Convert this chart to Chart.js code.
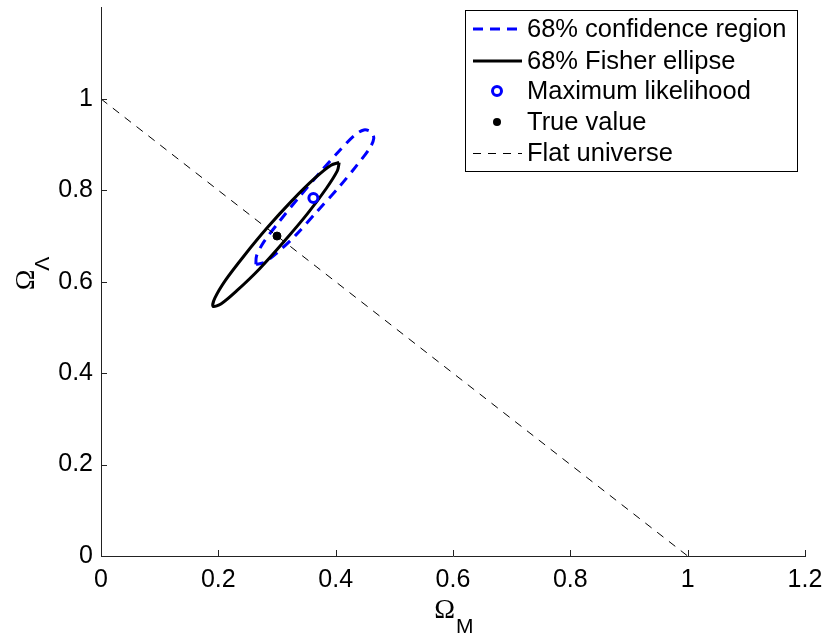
<!DOCTYPE html>
<html lang="en">
<head>
<meta charset="UTF-8">
<title>Omega_M vs Omega_Lambda</title>
<script src="https://cdn.jsdelivr.net/npm/chart.js"></script>
<style>
    body { margin: 0; background: #fff; }
    #wrap { width: 826px; height: 637px; }
</style>
</head>
<body>
<div id="wrap"><canvas id="chart" width="826" height="637"></canvas></div>
<script>
// values
const confX = [0.264, 0.265, 0.277, 0.304, 0.337, 0.376, 0.406, 0.432, 0.448, 0.460, 0.465, 0.458, 0.435, 0.407, 0.367, 0.332, 0.299, 0.278, 0.264];
const confY = [0.638, 0.656, 0.686, 0.732, 0.784, 0.843, 0.886, 0.920, 0.932, 0.928, 0.914, 0.892, 0.853, 0.809, 0.752, 0.702, 0.662, 0.642, 0.638];
const fisherX = [0.406, 0.403, 0.384, 0.352, 0.312, 0.270, 0.232, 0.205, 0.191, 0.194, 0.212, 0.244, 0.284, 0.326, 0.364, 0.392, 0.406];
const fisherY = [0.861, 0.843, 0.804, 0.749, 0.688, 0.628, 0.581, 0.552, 0.546, 0.564, 0.603, 0.657, 0.719, 0.778, 0.826, 0.855, 0.861];
const mlX = [0.362];
const mlY = [0.783];
const trueX = [0.3];
const trueY = [0.7];
const flatX = [0, 1];
const flatY = [1, 0];

const xTicks = [0, 0.2, 0.4, 0.6, 0.8, 1, 1.2];
const xTickLabels = ['0', '0.2', '0.4', '0.6', '0.8', '1', '1.2'];
const yTicks = [0, 0.2, 0.4, 0.6, 0.8, 1];
const yTickLabels = ['0', '0.2', '0.4', '0.6', '0.8', '1'];
const legendLabels = ['68% confidence region', '68% Fisher ellipse', 'Maximum likelihood', 'True value', 'Flat universe'];

const BLUE = '#0000ff';
const SANS = '"Liberation Sans", Arial, Helvetica, sans-serif';

function pts(xs, ys) {
    return xs.map((x, i) => ({ x: x, y: ys[i] }));
}

// inward ticks, axis titles and the boxed legend
const extras = {
    id: 'extras',
    afterDraw(chart) {
        const ctx = chart.ctx;
        const area = chart.chartArea;
        const xs = chart.scales.x, ys = chart.scales.y;
        ctx.save();

        ctx.strokeStyle = '#222';
        ctx.lineWidth = 1;
        ctx.beginPath();
        xTicks.forEach(v => {
            if (v === 0) return;
            const px = Math.round(xs.getPixelForValue(v)) + 0.5;
            ctx.moveTo(px, area.bottom);
            ctx.lineTo(px, area.bottom - 6);
        });
        yTicks.forEach(v => {
            if (v === 0) return;
            const py = Math.round(ys.getPixelForValue(v)) + 0.5;
            ctx.moveTo(area.left, py);
            ctx.lineTo(area.left + 6, py);
        });
        ctx.stroke();

        // x title: Omega_M
        ctx.fillStyle = '#000';
        ctx.textBaseline = 'alphabetic';
        const cx = (area.left + area.right) / 2;
        ctx.font = '28px "Liberation Serif", "Times New Roman", serif';
        ctx.textAlign = 'right';
        ctx.fillText('Ω', cx + 2, 618);
        ctx.font = '21px ' + SANS;
        ctx.textAlign = 'left';
        ctx.fillText('M', cx + 3, 633);

        // y title: Omega_Lambda
        ctx.save();
        ctx.translate(34, (area.top + area.bottom) / 2 - 2);
        ctx.rotate(-Math.PI / 2);
        ctx.font = '28px "Liberation Serif", "Times New Roman", serif';
        ctx.textAlign = 'center';
        ctx.fillText('Ω', 0, 0);
        ctx.font = '21px ' + SANS;
        ctx.textAlign = 'left';
        ctx.fillText('Λ', 9, 15);
        ctx.restore();

        // legend
        const bx = 465, by = 10, bw = 332, bh = 161;
        ctx.fillStyle = '#fff';
        ctx.fillRect(bx, by, bw, bh);
        ctx.strokeStyle = '#000';
        ctx.lineWidth = 1;
        ctx.strokeRect(bx + 0.5, by + 0.5, bw, bh);

        const rows = [29, 61, 91, 122, 153];
        const lx0 = 473, lx1 = 522, mx = 497;
        ctx.setLineDash([10, 7]);
        ctx.strokeStyle = BLUE;
        ctx.lineWidth = 3;
        ctx.beginPath(); ctx.moveTo(lx0, rows[0]); ctx.lineTo(lx1, rows[0]); ctx.stroke();
        ctx.setLineDash([]);
        ctx.strokeStyle = '#000';
        ctx.beginPath(); ctx.moveTo(lx0, rows[1]); ctx.lineTo(lx1, rows[1]); ctx.stroke();
        ctx.strokeStyle = BLUE;
        ctx.fillStyle = '#fff';
        ctx.beginPath(); ctx.arc(mx, rows[2], 4.5, 0, Math.PI * 2); ctx.fill(); ctx.stroke();
        ctx.fillStyle = '#000';
        ctx.beginPath(); ctx.arc(mx, rows[3], 4, 0, Math.PI * 2); ctx.fill();
        ctx.setLineDash([8, 7]);
        ctx.strokeStyle = '#000';
        ctx.lineWidth = 1;
        ctx.beginPath(); ctx.moveTo(lx0, rows[4] + 0.5); ctx.lineTo(lx1, rows[4] + 0.5); ctx.stroke();
        ctx.setLineDash([]);

        ctx.fillStyle = '#000';
        ctx.font = '25.5px ' + SANS;
        ctx.textAlign = 'left';
        legendLabels.forEach((t, i) => ctx.fillText(t, 527, rows[i] + 8));

        ctx.restore();
    }
};

new Chart(document.getElementById('chart'), {
    type: 'scatter',
    data: {
        datasets: [
            {
                label: legendLabels[4], data: pts(flatX, flatY), showLine: true,
                borderColor: '#000', borderWidth: 1, borderDash: [8, 7],
                pointRadius: 0, order: 2
            },
            {
                label: legendLabels[0], data: pts(confX, confY), showLine: true,
                borderColor: BLUE, borderWidth: 3, borderDash: [10, 7], tension: 0.3,
                pointRadius: 0, order: 4
            },
            {
                label: legendLabels[1], data: pts(fisherX, fisherY), showLine: true,
                borderColor: '#000', borderWidth: 3, tension: 0.3,
                pointRadius: 0, order: 3
            },
            {
                label: legendLabels[2], data: pts(mlX, mlY),
                pointStyle: 'circle', pointRadius: 4.5, borderWidth: 3,
                borderColor: BLUE, backgroundColor: '#fff', order: 0
            },
            {
                label: legendLabels[3], data: pts(trueX, trueY),
                pointStyle: 'circle', pointRadius: 4, borderWidth: 1,
                borderColor: '#000', backgroundColor: '#000', order: 1
            }
        ]
    },
    options: {
        responsive: false,
        animation: false,
        layout: { padding: { left: 0, right: 21, top: 4, bottom: 0 } },
        plugins: { legend: { display: false }, tooltip: { enabled: false } },
        scales: {
            x: {
                type: 'linear', min: 0, max: 1.2,
                afterBuildTicks: s => { s.ticks = xTicks.map(v => ({ value: v })); },
                afterFit: s => { s.height = 81; s.paddingLeft = 0; s.paddingRight = 0; },
                grid: { display: false, drawTicks: false },
                border: { display: true, color: '#222', width: 1 },
                ticks: {
                    padding: 9, color: '#000', maxRotation: 0,
                    font: { family: SANS, size: 25 },
                    callback: (v, i) => xTickLabels[i]
                }
            },
            y: {
                type: 'linear', min: 0, max: 1.2,
                afterBuildTicks: s => { s.ticks = yTicks.map(v => ({ value: v })); },
                afterFit: s => { s.width = 101; s.paddingTop = 0; s.paddingBottom = 0; },
                grid: { display: false, drawTicks: false },
                border: { display: true, color: '#222', width: 1 },
                ticks: {
                    padding: 8, color: '#000',
                    font: { family: SANS, size: 25 },
                    callback: (v, i) => yTickLabels[i]
                }
            }
        }
    },
    plugins: [extras]
});
</script>
</body>
</html>
